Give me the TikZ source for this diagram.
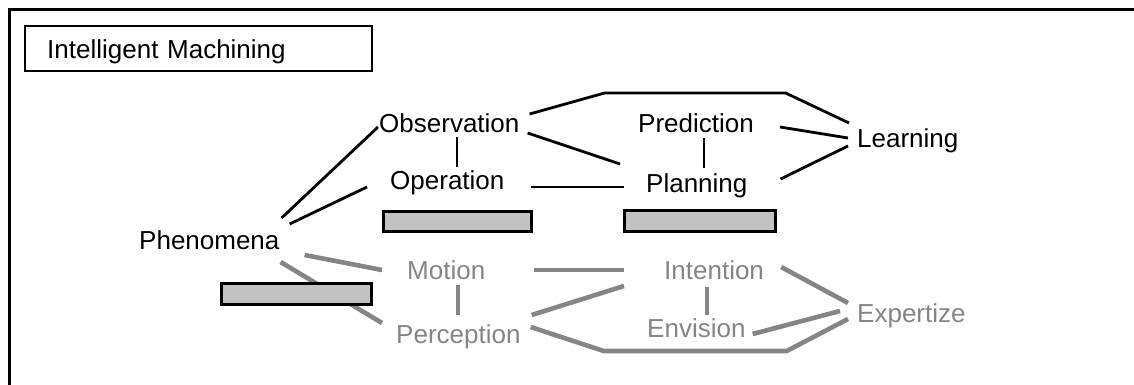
\documentclass[tikz,border=0pt]{standalone}
\usepackage{fontspec}
\setmainfont{Liberation Sans}
\usetikzlibrary{calc}
\begin{document}
\begin{tikzpicture}[x=1pt,y=-1pt,
  word/.style={anchor=base west, inner sep=0pt, font=\fontsize{26}{30}\selectfont},
  strong/.style={word, text=black},
  faint/.style={word, text=black!48},
  link/.style={line width=2.8pt},
  dimlink/.style={line width=4.6pt, draw=black!48},
  bar/.style={draw, line width=2.8pt, fill=black!24, inner sep=0pt},
]
\useasboundingbox (0,0) rectangle (1134,385);
\clip (0,0) rectangle (1134,385);

% outer frame (open to the right and bottom)
\draw[line width=3pt] (9,400) -- (9,9.5) -- (1140,9.5);

% title box
\node[draw, line width=2.2pt, anchor=north west, minimum width=347pt,
      minimum height=45pt, inner xsep=22pt, text width=303pt, align=left,
      text height=19pt, text depth=0pt, font=\fontsize{26}{30}\selectfont]
  (title) at (24.1,25.1) {Intelligent Machining};

% upper (black) concepts
\node[strong] (phen)  at (139,249) {Phenomena};
\node[strong] (obs)   at (379,132) {Observation};
\node[strong] (opr)   at (390,189) {Operation};
\node[strong] (pred)  at (638,132) {Prediction};
\node[strong] (plan)  at (646,192) {Planning};
\node[strong] (learn) at (857,147) {Learning};

% lower (grey) concepts
\node[faint] (mot)  at (407,279) {Motion};
\node[faint] (perc) at (396,343) {Perception};
\node[faint] (intn) at (664,279) {Intention};
\node[faint] (env)  at (647,337) {Envision};
\node[faint] (exp)  at (857,322) {Expertize};

% black links
\draw[link] ($(phen.base east)+(2,-31)$) -- ($(obs.base west)+(-1,-5)$);
\draw[link] ($(phen.base east)+(10,-25)$) -- ($(opr.base west)+(-23,-2)$);
\draw[link] ($(obs.base west)+(78,5)$) -- ($(opr.base west)+(67,-22)$);
\draw[link] ($(obs.base east)+(10,-18)$) -- ++(75,-21) -- ++(181,0)
            -- ($(learn.base west)+(-8,-24)$);
\draw[link] ($(obs.base east)+(8,1)$) -- ($(plan.base west)+(-26,-28)$);
\draw[link] ($(opr.base east)+(26,-2)$) -- ($(plan.base west)+(-22,-5)$);
\draw[link] ($(pred.base west)+(66,6)$) -- ($(plan.base west)+(58,-24)$);
\draw[link] ($(pred.base east)+(26,-5)$) -- ($(learn.base west)+(-9,-9)$);
\draw[link] ($(plan.base east)+(33,-13)$) -- ($(learn.base west)+(-9,-1)$);

% grey links
\draw[dimlink] ($(phen.base east)+(25,6)$) -- ($(mot.base west)+(-25,-9)$);
\draw[dimlink] ($(phen.base east)+(1,13)$) -- ($(perc.base west)+(-14,-20)$);
\draw[dimlink] ($(mot.base west)+(51,6)$) -- ($(perc.base west)+(62,-28)$);
\draw[dimlink] ($(mot.base east)+(49,-9)$) -- ($(intn.base west)+(-40,-9)$);
\draw[dimlink] ($(perc.base east)+(11,-28)$) -- ($(intn.base west)+(-40,7)$);
\draw[dimlink] ($(perc.base east)+(10,-16)$) -- ++(73,24) -- ++(183,0)
               -- ($(exp.base west)+(-9,-3)$);
\draw[dimlink] ($(intn.base west)+(43,8)$) -- ($(env.base west)+(60,-22)$);
\draw[dimlink] ($(intn.base east)+(17,-12)$) -- ($(exp.base west)+(-9,-19)$);
\draw[dimlink] ($(env.base east)+(7,-3)$) -- ($(exp.base west)+(-17,-11)$);

% shaded bars
\node[bar, minimum width=148pt, minimum height=20pt] (bar1) at (457.5,221.5) {};
\node[bar, minimum width=151pt, minimum height=21pt] (bar2) at (700,221) {};
\node[bar, minimum width=150pt, minimum height=21pt] (bar3) at (296.5,294) {};
\end{tikzpicture}
\end{document}
